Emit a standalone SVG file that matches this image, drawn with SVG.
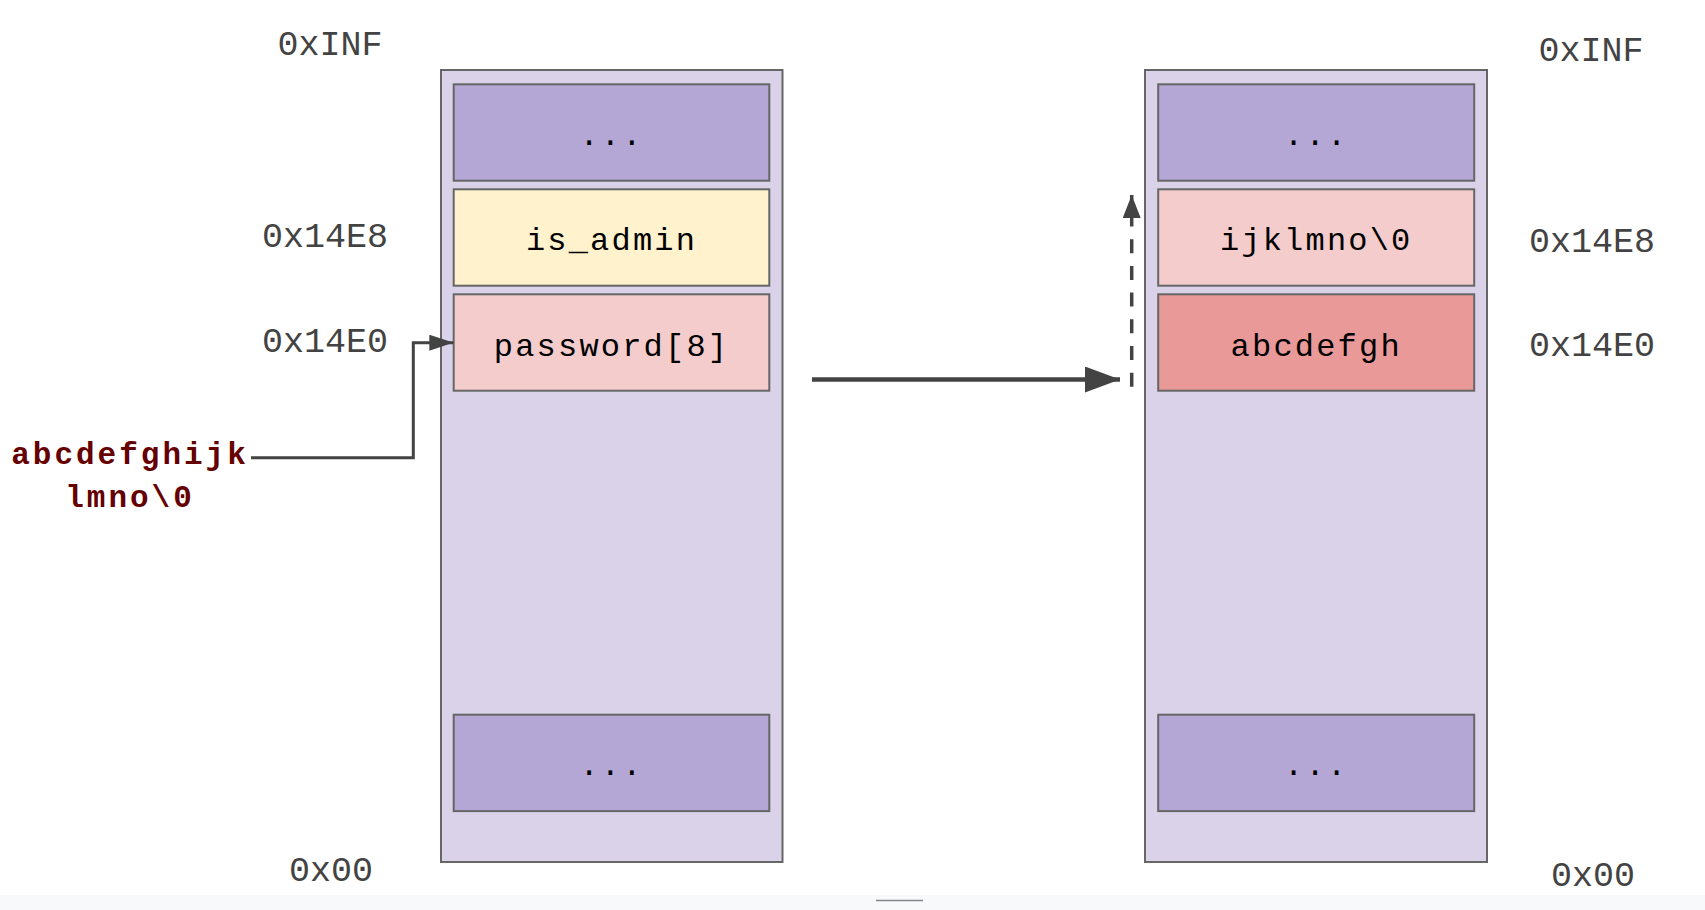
<svg xmlns="http://www.w3.org/2000/svg" width="1705" height="910" viewBox="0 0 1705 910">
<style>
.outer{fill:#d9d2e9;stroke:#666666;stroke-width:2}
.cell{stroke:#666666;stroke-width:2}
.dots{fill:#b4a7d6}
.yellow{fill:#fff2cc}
.pink{fill:#f4cccc}
.red{fill:#ea9999}
.addr{font-family:"Liberation Mono","DejaVu Sans Mono",monospace;font-size:35px;fill:#434343;text-anchor:middle}
.val{font-family:"Liberation Mono","DejaVu Sans Mono",monospace;font-size:32px;letter-spacing:2.2px;fill:#000000;text-anchor:middle}
.input{font-family:"Liberation Mono","DejaVu Sans Mono",monospace;font-size:31px;font-weight:bold;letter-spacing:3px;fill:#660000;text-anchor:middle}
.conn{fill:none;stroke:#434343}
</style>
<defs>
<marker id="ahSmall" markerUnits="userSpaceOnUse" viewBox="0 0 24 16" refX="24" refY="8" markerWidth="24" markerHeight="16" orient="auto"><path d="M0,0 L24,8 L0,16 z" fill="#434343"/></marker>
<marker id="ahBig" markerUnits="userSpaceOnUse" viewBox="0 0 35 26" refX="35" refY="13" markerWidth="35" markerHeight="26" orient="auto"><path d="M0,0 L35,13 L0,26 z" fill="#434343"/></marker>
<marker id="ahDash" markerUnits="userSpaceOnUse" viewBox="0 0 23 18" refX="23" refY="9" markerWidth="23" markerHeight="18" orient="auto"><path d="M0,0 L23,9 L0,18 z" fill="#434343"/></marker>
</defs>
<rect x="0" y="0" width="1705" height="910" fill="#ffffff"/>
<rect x="0" y="895" width="1705" height="15" fill="#f8f9fa"/>
<line x1="876" y1="900.5" x2="923" y2="900.5" stroke="#80868b" stroke-width="1.5"/>

<g id="left-addresses">
<text class="addr" x="330" y="55">0xINF</text>
<text class="addr" x="325" y="247">0x14E8</text>
<text class="addr" x="325" y="352">0x14E0</text>
<text class="addr" x="331" y="881">0x00</text>
</g>
<g id="right-addresses">
<text class="addr" x="1591" y="61">0xINF</text>
<text class="addr" x="1592" y="252">0x14E8</text>
<text class="addr" x="1592" y="356">0x14E0</text>
<text class="addr" x="1593" y="886">0x00</text>
</g>

<g id="stack-before">
<rect class="outer" x="441" y="70" width="341.5" height="792"/>
<g id="before-top"><rect class="cell dots" x="453.7" y="84.3" width="315.6" height="96.4"/><text class="val" x="611.5" y="145">...</text></g>
<g id="before-is_admin"><rect class="cell yellow" x="453.7" y="189.3" width="315.6" height="96.4"/><text class="val" x="611.5" y="250">is_admin</text></g>
<g id="before-password"><rect class="cell pink" x="453.7" y="294.3" width="315.6" height="96.4"/><text class="val" x="611.5" y="355.5">password[8]</text></g>
<g id="before-bottom"><rect class="cell dots" x="453.7" y="714.7" width="315.6" height="96.4"/><text class="val" x="611.5" y="775">...</text></g>
</g>

<g id="stack-after">
<rect class="outer" x="1145" y="70" width="342" height="792"/>
<g id="after-top"><rect class="cell dots" x="1158.2" y="84.3" width="316" height="96.4"/><text class="val" x="1316.2" y="145">...</text></g>
<g id="after-ijklmno"><rect class="cell pink" x="1158.2" y="189.3" width="316" height="96.4"/><text class="val" x="1316.2" y="250">ijklmno\0</text></g>
<g id="after-abcdefgh"><rect class="cell red" x="1158.2" y="294.3" width="316" height="96.4"/><text class="val" x="1316.2" y="355.5">abcdefgh</text></g>
<g id="after-bottom"><rect class="cell dots" x="1158.2" y="714.7" width="316" height="96.4"/><text class="val" x="1316.2" y="775">...</text></g>
</g>

<g id="input">
<text class="input" x="130" y="464">abcdefghijk</text>
<text class="input" x="130" y="507">lmno\0</text>
</g>

<g id="connectors">
<path class="conn" stroke-width="3" d="M251,457.7 H413.3 V342.7 H453.3" marker-end="url(#ahSmall)"/>
<path class="conn" stroke-width="4.5" d="M812,379.5 H1120" marker-end="url(#ahBig)"/>
<path class="conn" stroke-width="3.5" stroke-dasharray="14 12.7" d="M1131.7,386.7 V195" marker-end="url(#ahDash)"/>
</g>
</svg>
